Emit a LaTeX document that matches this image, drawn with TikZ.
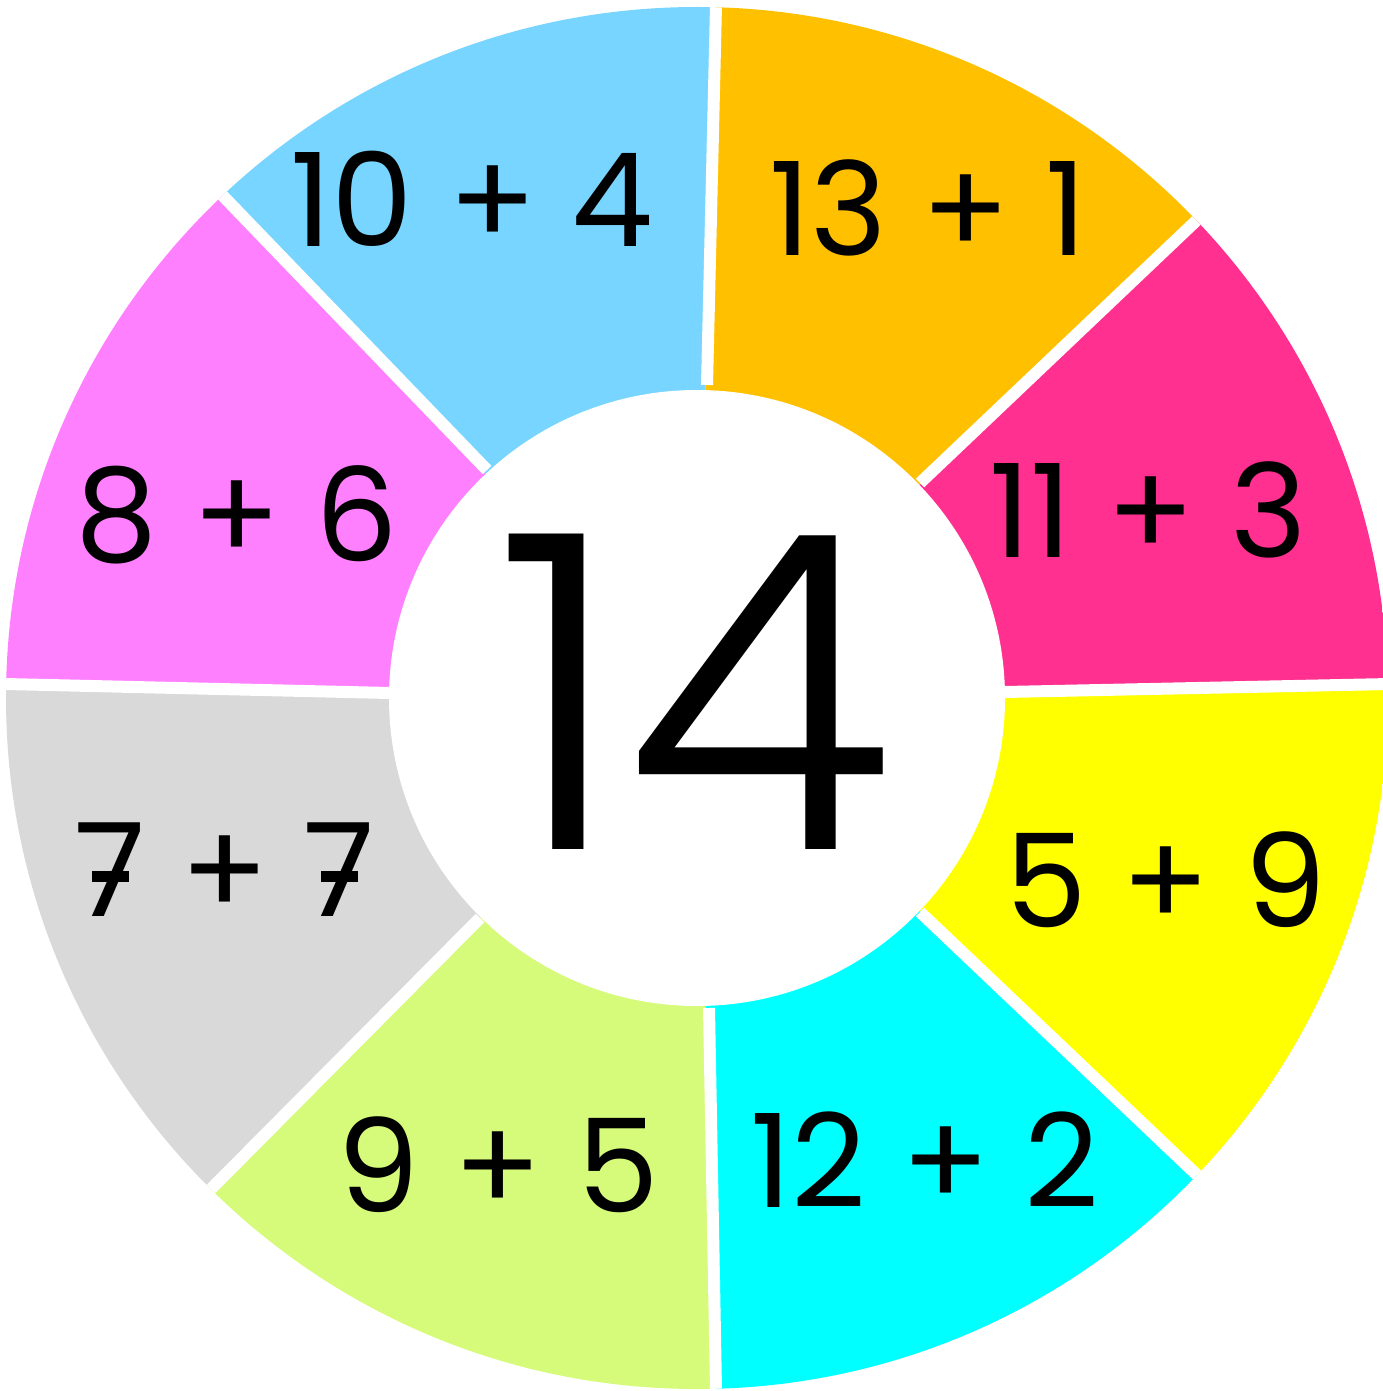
\documentclass[tikz,border=0pt]{standalone}
\usepackage{fontspec}
\setmainfont{Poppins}
\newfontfamily\bigfont{Poppins Light}
\usetikzlibrary{calc}
\definecolor{cBlue}{RGB}{120,213,255}
\definecolor{cOrange}{RGB}{255,192,0}
\definecolor{cHot}{RGB}{255,48,144}
\definecolor{cYellow}{RGB}{255,255,0}
\definecolor{cCyan}{RGB}{0,255,255}
\definecolor{cGreen}{RGB}{214,250,122}
\definecolor{cGray}{RGB}{217,217,217}
\definecolor{cViolet}{RGB}{255,128,255}
\newcommand\crossseven{\rlap{7}\makebox[\fontcharwd\font`7][c]{\raisebox{0.27em}{\rule{0.28em}{0.08em}}}}
\tikzset{
  sumlabel/.style={inner sep=0pt, font=\fontsize{65}{70}\selectfont},
  biglabel/.style={inner sep=0pt, font=\bigfont\fontsize{220}{230}\selectfont},
  gap/.style={white, line width=6}
}
\begin{document}
\begin{tikzpicture}[x=0.5pt,y=-0.5pt]
\useasboundingbox (0,0) rectangle (1382,1391);
\coordinate (c) at (697,698);
% inner / outer points of the separators
\coordinate (I1) at (707,385);  \coordinate (O1) at (716,5);
\coordinate (I2) at (920,483);  \coordinate (O2) at (1197,220);
\coordinate (I3) at (1005,692); \coordinate (O3) at (1390,684);
\coordinate (I4) at (920,912);  \coordinate (O4) at (1197,1175);
\coordinate (I5) at (709,1008); \coordinate (O5) at (716,1390);
\coordinate (I6) at (480,918);  \coordinate (O6) at (210,1190);
\coordinate (I7) at (390,693);  \coordinate (O7) at (6,684);
\coordinate (I8) at (487,470);  \coordinate (O8) at (224,197);
\begin{scope}
  \clip (c) circle (691);
  \fill[cOrange] (c) -- ($(c)!2!(O1)$) -- ($(c)!2!(O2)$) -- cycle;
  \fill[cHot]    (c) -- ($(c)!2!(O2)$) -- ($(c)!2!(O3)$) -- cycle;
  \fill[cYellow] (c) -- ($(c)!2!(O3)$) -- ($(c)!2!(O4)$) -- cycle;
  \fill[cCyan]   (c) -- ($(c)!2!(O4)$) -- ($(c)!2!(O5)$) -- cycle;
  \fill[cGreen]  (c) -- ($(c)!2!(O5)$) -- ($(c)!2!(O6)$) -- cycle;
  \fill[cGray]   (c) -- ($(c)!2!(O6)$) -- ($(c)!2!(O7)$) -- cycle;
  \fill[cViolet] (c) -- ($(c)!2!(O7)$) -- ($(c)!2!(O8)$) -- cycle;
  \fill[cBlue]   (c) -- ($(c)!2!(O8)$) -- ($(c)!2!(O1)$) -- cycle;
  \foreach \i in {1,...,8} {
    \draw[gap] (I\i) -- ($(I\i)!1.2!(O\i)$);
  }
\end{scope}
\fill[white] (c) circle (308);
\node[sumlabel] (s1) at (472,199)  {10 + 4};
\node[sumlabel] (s2) at (928,208)  {13 + 1};
\node[sumlabel] (s3) at (1148,510) {11 + 3};
\node[sumlabel] (s4) at (1166,880) {5 + 9};
\node[sumlabel] (s5) at (925,1160) {12 + 2};
\node[sumlabel] (s6) at (498,1165) {9 + 5};
\node[sumlabel] (s7) at (225,870)  {\crossseven{} + \crossseven};
\node[sumlabel] (s8) at (237,515)  {8 + 6};
\node[biglabel] (n)  at (695,692)  {14};
\end{tikzpicture}
\end{document}
